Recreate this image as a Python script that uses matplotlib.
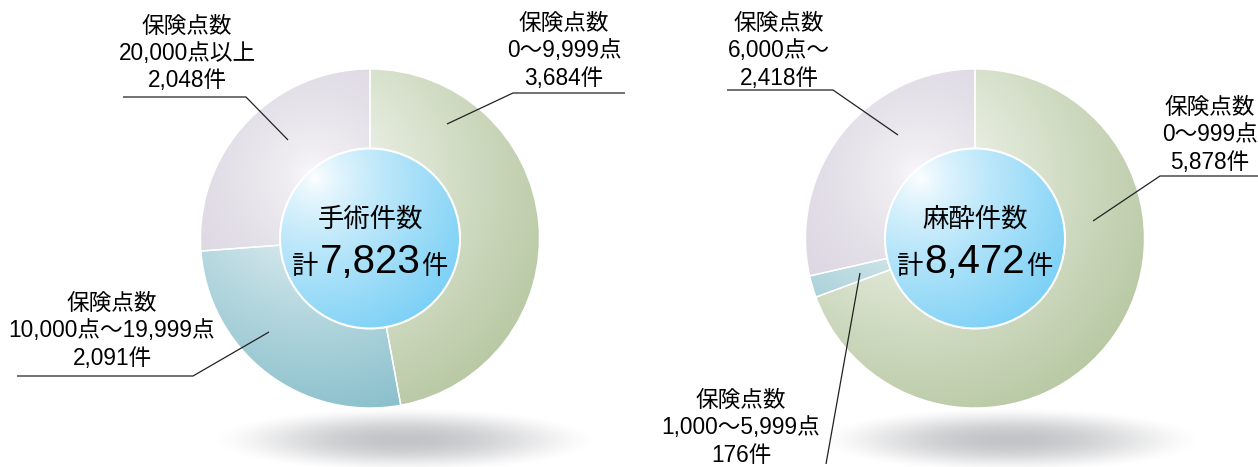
import matplotlib.pyplot as plt
import numpy as np
from matplotlib.colors import to_rgb
from matplotlib.patches import Circle

# フォント設定（数字は Liberation Sans、漢字は Noto Sans CJK JP）
plt.rcParams['font.family'] = ['Liberation Sans', 'Noto Sans CJK JP']

W, H = 1258, 467

# ========== データ ==========
surgery_title = '手術件数'
surgery_ranges = ['0～9,999点', '10,000点～19,999点', '20,000点以上']
surgery_counts = [3684, 2091, 2048]

anesthesia_title = '麻酔件数'
anesthesia_ranges = ['0～999点', '1,000～5,999点', '6,000点～']
anesthesia_counts = [5878, 176, 2418]

label_head = '保険点数'

# ========== スタイル ==========
ring_colors = ['#b3c59d', '#7db9c6', '#cfc8d7']   # 緑, 青緑, 薄紫 (外側の濃い色)
ring_gamma = [0.8, 0.8, 0.5]
center_color = '#72cdf5'
R_OUT, R_IN = 169.5, 90

# ラベル位置（ピクセル, 上から）と引き出し線
surgery_label_pos = [(564, 23), (112, 303), (187, 26)]
surgery_leaders = [[(625, 93), (513, 93), (447, 124)],
                   [(17, 376), (193, 376), (269, 332)],
                   [(123, 97), (246, 97), (288, 140)]]
anesthesia_label_pos = [(1210, 107), (741, 400), (779, 23)]
anesthesia_leaders = [[(1258, 176), (1160, 176), (1093, 221)],
                      [(826, 464), (860, 273)],
                      [(727, 90), (833, 90), (898, 135)]]


def Y(y):
    # ピクセル座標(上が0) -> データ座標(下が0)
    return H - y


def gradient_image(cx, cy, radius, far_color, hl, reach, gamma=0.8):
    n = 300
    xs = np.linspace(cx - radius, cx + radius, n)
    ys = np.linspace(cy - radius, cy + radius, n)
    gx, gy = np.meshgrid(xs, ys)
    d = np.hypot(gx - hl[0], gy - hl[1])
    t = np.clip(d / reach, 0, 1) ** gamma
    near = np.array([1.0, 1.0, 1.0])
    far = np.array(to_rgb(far_color))
    img = near[None, None, :] * (1 - t[..., None]) + far[None, None, :] * t[..., None]
    return img, (cx - radius, cx + radius, cy - radius, cy + radius)


def draw_shadow(ax, cx, cy, a=192, b=32):
    xs = np.linspace(cx - a, cx + a, 400)
    ys = np.linspace(cy - b * 1.6, cy + b * 1.6, 120)
    gx, gy = np.meshgrid(xs, ys)
    r = np.hypot((gx - cx) / a, (gy - cy) / b)
    alpha = np.clip(1 - r ** 2, 0, 1) ** 1.6
    img = np.zeros(gx.shape + (4,))
    img[..., :3] = to_rgb('#c3c4c7')
    img[..., 3] = alpha
    ax.imshow(img, extent=(cx - a, cx + a, cy - b * 1.6, cy + b * 1.6),
              origin='lower', zorder=0, interpolation='bilinear')


def draw_donut(ax, cx, cy, counts, title, ranges, label_pos, leaders):
    c = (cx, Y(cy))
    hl = (cx - 57, Y(cy) + 63)   # ハイライト位置（左上）

    draw_shadow(ax, cx + 35, Y(440))

    wedges, _ = ax.pie(counts, radius=R_OUT, center=c, startangle=90,
                       counterclock=False, frame=True,
                       wedgeprops=dict(width=R_OUT - R_IN, facecolor='none',
                                       edgecolor='white', linewidth=1.0))
    for w, col, g in zip(wedges, ring_colors, ring_gamma):
        w.set_zorder(2)
        img, ext = gradient_image(c[0], c[1], R_OUT + 2, col, hl, 280, g)
        im = ax.imshow(img, extent=ext, origin='lower', zorder=1,
                       interpolation='bilinear')
        im.set_clip_path(w)

    # 中央の円
    circ = Circle(c, R_IN, facecolor='none', edgecolor='white',
                  linewidth=1.5, zorder=4)
    ax.add_patch(circ)
    img, ext = gradient_image(c[0], c[1], R_IN + 2, center_color,
                              (hl[0] + 2, hl[1] - 3), 190, gamma=0.75)
    im = ax.imshow(img, extent=ext, origin='lower', zorder=3,
                   interpolation='bilinear')
    im.set_clip_path(circ)

    # 中央テキスト
    ax.text(cx, Y(cy - 19), title, fontsize=19, ha='center', va='center',
            zorder=5)
    num = ax.text(cx, Y(cy + 35), f'{sum(counts):,}', fontsize=29,
                  ha='center', va='baseline', zorder=5)
    renderer = fig.canvas.get_renderer()
    bb = num.get_window_extent(renderer).transformed(ax.transData.inverted())
    ax.text(bb.x0 - 1, Y(cy + 35), '計', fontsize=19, ha='right',
            va='baseline', zorder=5)
    ax.text(bb.x1 + 1, Y(cy + 35), '件', fontsize=19, ha='left',
            va='baseline', zorder=5)

    # ラベルと引き出し線
    for (lx, ly), rng, n, pts in zip(label_pos, ranges, counts, leaders):
        lines = [label_head, rng, f'{n:,}件']
        for i, s in enumerate(lines):
            ax.text(lx, Y(ly + 27.5 * i), s, fontsize=16.3, ha='center',
                    va='center', zorder=5)
        xs = [p[0] for p in pts]
        ys = [Y(p[1]) for p in pts]
        ax.plot(xs, ys, color='#222222', linewidth=0.9, zorder=6,
                solid_capstyle='butt')


fig = plt.figure(figsize=(W / 100, H / 100), dpi=100)
ax = fig.add_axes([0, 0, 1, 1])
ax.set_xlim(0, W)
ax.set_ylim(0, H)
ax.set_aspect('equal')
ax.axis('off')

draw_donut(ax, 370, 238.5, surgery_counts, surgery_title, surgery_ranges,
           surgery_label_pos, surgery_leaders)
draw_donut(ax, 975, 238.5, anesthesia_counts, anesthesia_title,
           anesthesia_ranges, anesthesia_label_pos, anesthesia_leaders)

ax.set_xlim(0, W)
ax.set_ylim(0, H)
ax.axis('off')

fig.savefig('out.png', dpi=100, facecolor='white')
